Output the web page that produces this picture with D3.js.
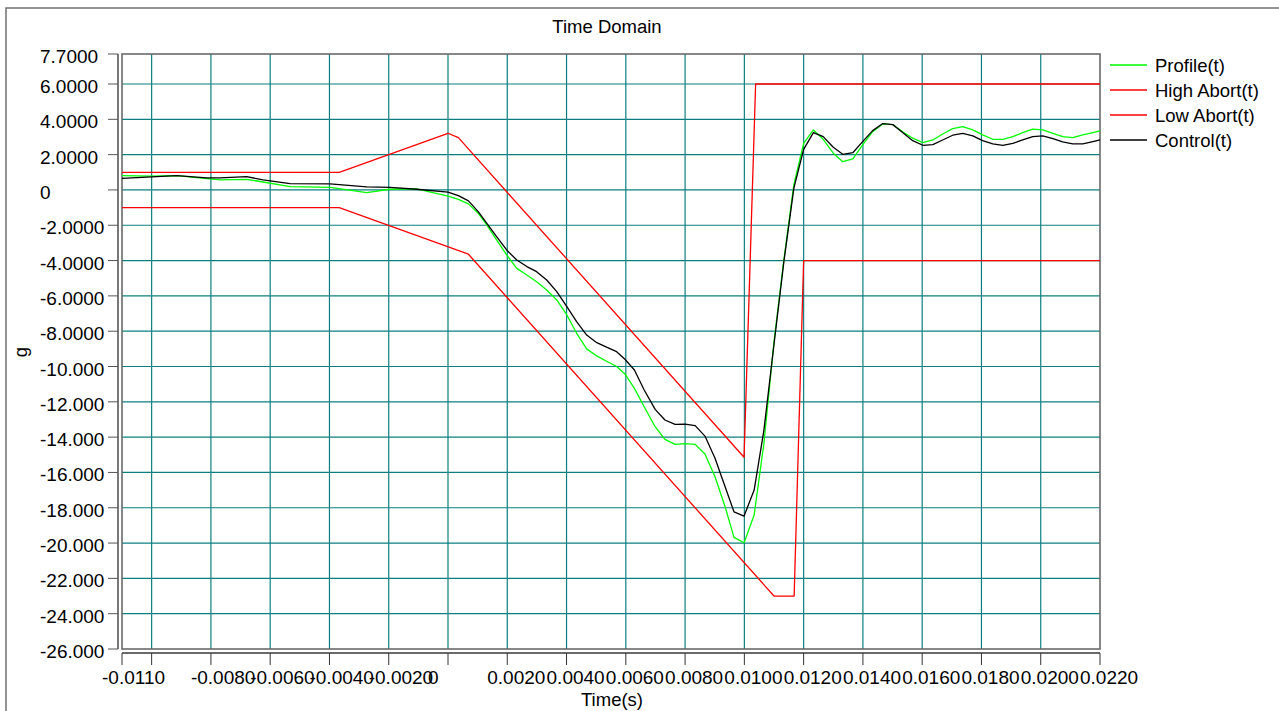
<!DOCTYPE html>
<html>
<head>
<meta charset="utf-8">
<script src="https://cdn.jsdelivr.net/npm/d3@7"></script>
<style>
  body { margin: 0; background: #fff; }
  svg { display: block; font-family: "Liberation Sans", Arial, sans-serif; }
</style>
</head>
<body>
<svg id="chart"></svg>
<script>
/* CONSTANTS AND GLOBALS */
const width = 1279,
  height = 711,
  margin = { top: 54, right: 179, bottom: 62, left: 122 };

// sample times in ms (shared by Profile and Control)
const sampleTimeMs = [
  -11.0, -10.0, -9.15, -8.14, -7.69, -6.79, -6.24, -5.33, -3.98, -2.74, -1.96, -1.06,
  0.0, 0.35, 0.69, 1.02, 1.31, 1.64, 1.98, 2.32, 2.66, 2.99, 3.33, 3.67, 4.01, 4.34,
  4.68, 5.02, 5.35, 5.69, 5.97, 6.29, 6.62, 6.99, 7.32, 7.66, 8.00, 8.34, 8.67, 9.01,
  9.35, 9.65, 9.99, 10.33, 10.66, 11.0, 11.33, 11.67, 12.0, 12.33, 12.66, 13.0, 13.32,
  13.66, 13.99, 14.33, 14.67, 15.01, 15.34, 15.68, 16.02, 16.36, 16.69, 17.03, 17.37,
  17.71, 18.04, 18.38, 18.72, 19.06, 19.39, 19.73, 20.07, 20.41, 20.74, 21.08, 21.42,
  21.76, 22.0
];
const profile = [
  0.81, 0.78, 0.81, 0.64, 0.57, 0.60, 0.45, 0.19, 0.15, -0.15, 0.04, 0.06,
  -0.35, -0.53, -0.79, -1.32, -1.98, -2.83, -3.68, -4.44, -4.82, -5.20, -5.67, -6.23, -7.08, -8.12,
  -9.00, -9.40, -9.70, -10.0, -10.42, -11.24, -12.28, -13.41, -14.13, -14.41, -14.37, -14.41, -14.96, -16.24,
  -17.94, -19.68, -19.98, -18.41, -14.35, -8.6, -4.0, 0.3, 2.64, 3.40, 2.87, 2.08, 1.60,
  1.76, 2.55, 3.30, 3.74, 3.70, 3.30, 2.93, 2.68, 2.83, 3.17, 3.47, 3.59,
  3.40, 3.12, 2.87, 2.87, 3.02, 3.25, 3.44, 3.40, 3.21, 3.02, 2.96, 3.12,
  3.25, 3.34
];
const control = [
  0.66, 0.74, 0.81, 0.68, 0.68, 0.75, 0.57, 0.36, 0.34, 0.17, 0.15, 0.04,
  -0.12, -0.32, -0.62, -1.23, -1.89, -2.64, -3.40, -3.97, -4.34, -4.63, -5.10, -5.76, -6.61, -7.46,
  -8.22, -8.65, -8.90, -9.16, -9.59, -10.2, -11.33, -12.43, -13.03, -13.28, -13.26, -13.35, -13.94, -15.2,
  -16.81, -18.23, -18.47, -17.0, -13.6, -8.74, -4.1, 0.1, 2.30, 3.25, 3.02, 2.42, 2.02,
  2.11, 2.74, 3.36, 3.76, 3.70, 3.25, 2.79, 2.53, 2.57, 2.83, 3.10, 3.21,
  3.06, 2.79, 2.61, 2.53, 2.64, 2.83, 3.02, 3.06, 2.91, 2.72, 2.61, 2.61,
  2.74, 2.83
];

// abort limits
const highAbortTimeMs = [-11.0, -3.67, 0.0, 0.35, 9.99, 10.38, 22.0];
const highAbort = [1.0, 1.0, 3.21, 2.96, -15.14, 6.0, 6.0];
const lowAbortTimeMs = [-11.0, -3.67, 0.69, 11.0, 11.68, 12.0, 22.0];
const lowAbort = [-1.0, -1.0, -3.64, -23.0, -23.0, -4.0, -4.0];

// axes
const yTicks = [7.7, 6, 4, 2, 0, -2, -4, -6, -8, -10, -12, -14, -16, -18, -20, -22, -24, -26];
const yTickLabels = ["7.7000", "6.0000", "4.0000", "2.0000", "0", "-2.0000", "-4.0000", "-6.0000",
  "-8.0000", "-10.000", "-12.000", "-14.000", "-16.000", "-18.000", "-20.000", "-22.000", "-24.000", "-26.000"];
const yGrid = [6, 4, 2, 0, -2, -4, -6, -8, -10, -12, -14, -16, -18, -20, -22, -24];
const xTicks = [-0.011, -0.010, -0.008, -0.006, -0.004, -0.002, 0, 0.002, 0.004, 0.006, 0.008,
  0.010, 0.012, 0.014, 0.016, 0.018, 0.020, 0.022];
const xTickLabels = ["-0.0110", "", "-0.0080", "-0.0060", "-0.0040", "-0.0020", "0", "0.0020", "0.0040",
  "0.0060", "0.0080", "0.0100", "0.0120", "0.0140", "0.0160", "0.0180", "0.0200", "0.0220"];
const xGrid = [-0.010, -0.008, -0.006, -0.004, -0.002, 0, 0.002, 0.004, 0.006, 0.008,
  0.010, 0.012, 0.014, 0.016, 0.018, 0.020];

const seriesNames = ["Profile(t)", "High Abort(t)", "Low Abort(t)", "Control(t)"];
const seriesColors = ["#00ff00", "#ff0000", "#ff0000", "#000000"];

/* SCALES */
const xScale = d3.scaleLinear()
  .domain([-0.011, 0.022])
  .range([margin.left, width - margin.right]);

const yScale = d3.scaleLinear()
  .domain([-26, 7.7])
  .range([height - margin.bottom, margin.top]);

const svg = d3.select("#chart")
  .attr("width", width)
  .attr("height", height);

// outer frame
svg.append("rect")
  .attr("x", 6).attr("y", 8)
  .attr("width", width + 20).attr("height", height + 20)
  .attr("fill", "none")
  .attr("stroke", "#707070")
  .attr("stroke-width", 1.5);

// title
svg.append("text")
  .attr("x", 607).attr("y", 33)
  .attr("text-anchor", "middle")
  .attr("font-size", 18.5)
  .text("Time Domain");

/* GRID */
const x0 = xScale.range()[0], x1 = xScale.range()[1];
const y0 = yScale.range()[0], y1 = yScale.range()[1];

svg.append("g").selectAll("line")
  .data(yGrid)
  .join("line")
  .attr("x1", x0).attr("x2", x1)
  .attr("y1", d => yScale(d)).attr("y2", d => yScale(d))
  .attr("stroke", "#0b7f80")
  .attr("stroke-width", 1.2);

svg.append("g").selectAll("line")
  .data(xGrid)
  .join("line")
  .attr("y1", y1).attr("y2", y0)
  .attr("x1", d => xScale(d)).attr("x2", d => xScale(d))
  .attr("stroke", "#0b7f80")
  .attr("stroke-width", 1.2);

// plot border
svg.append("rect")
  .attr("x", x0).attr("y", y1)
  .attr("width", x1 - x0).attr("height", y0 - y1)
  .attr("fill", "none")
  .attr("stroke", "#6a6a6a")
  .attr("stroke-width", 1.6);

/* AXES */
// y axis sits 4px left of plot
const yAxisX = x0 - 4;
const yAxis = svg.append("g");
yAxis.append("line")
  .attr("x1", yAxisX).attr("x2", yAxisX)
  .attr("y1", y1).attr("y2", y0)
  .attr("stroke", "#6a6a6a").attr("stroke-width", 1.8);
yAxis.selectAll(".tick")
  .data(yTicks)
  .join("line")
  .attr("class", "tick")
  .attr("x1", yAxisX - 10).attr("x2", yAxisX)
  .attr("y1", d => yScale(d)).attr("y2", d => yScale(d))
  .attr("stroke", "#555").attr("stroke-width", 1);
yAxis.selectAll("text")
  .data(yTicks)
  .join("text")
  .attr("x", 40)
  .attr("y", d => yScale(d) + 9)
  .attr("font-size", 19)
  .text((d, i) => yTickLabels[i]);

// x axis sits 4px below plot
const xAxisY = y0 + 4;
const xAxis = svg.append("g");
xAxis.append("line")
  .attr("x1", x0).attr("x2", x1)
  .attr("y1", xAxisY).attr("y2", xAxisY)
  .attr("stroke", "#6a6a6a").attr("stroke-width", 1.8);
xAxis.selectAll(".tick")
  .data(xTicks)
  .join("line")
  .attr("class", "tick")
  .attr("x1", d => xScale(d)).attr("x2", d => xScale(d))
  .attr("y1", xAxisY).attr("y2", xAxisY + 12)
  .attr("stroke", "#333").attr("stroke-width", 1);
xAxis.selectAll("text")
  .data(xTicks)
  .join("text")
  .attr("x", d => xScale(d) - 20)
  .attr("y", 684)
  .attr("font-size", 19)
  .text((d, i) => xTickLabels[i]);

// axis labels
svg.append("text")
  .attr("x", 612).attr("y", 706)
  .attr("text-anchor", "middle")
  .attr("font-size", 18.5)
  .text("Time(s)");

svg.append("text")
  .attr("transform", `translate(${27}, ${352}) rotate(-90)`)
  .attr("text-anchor", "middle")
  .attr("font-size", 18.5)
  .text("g");

/* LINES */
const lineGen = d3.line()
  .x(d => xScale(d.t / 1000))
  .y(d => yScale(d.g));

const toPoints = (times, vals) => times.map((t, i) => ({ t: t, g: vals[i] }));

const seriesData = [
  toPoints(sampleTimeMs, profile),
  toPoints(highAbortTimeMs, highAbort),
  toPoints(lowAbortTimeMs, lowAbort),
  toPoints(sampleTimeMs, control)
];

svg.append("g").selectAll("path")
  .data(seriesData)
  .join("path")
  .attr("fill", "none")
  .attr("stroke", (d, i) => seriesColors[i])
  .attr("stroke-width", 1.3)
  .attr("stroke-linejoin", "round")
  .attr("d", d => lineGen(d));

/* LEGEND */
const legend = svg.append("g")
  .selectAll("g")
  .data(seriesNames)
  .join("g")
  .attr("transform", (d, i) => `translate(1110, ${65 + i * 25})`);

legend.append("line")
  .attr("x1", 0).attr("x2", 37)
  .attr("stroke", (d, i) => seriesColors[i])
  .attr("stroke-width", 1.3);

legend.append("text")
  .attr("x", 45).attr("y", 6.5)
  .attr("font-size", 18.5)
  .text(d => d);
</script>
</body>
</html>
